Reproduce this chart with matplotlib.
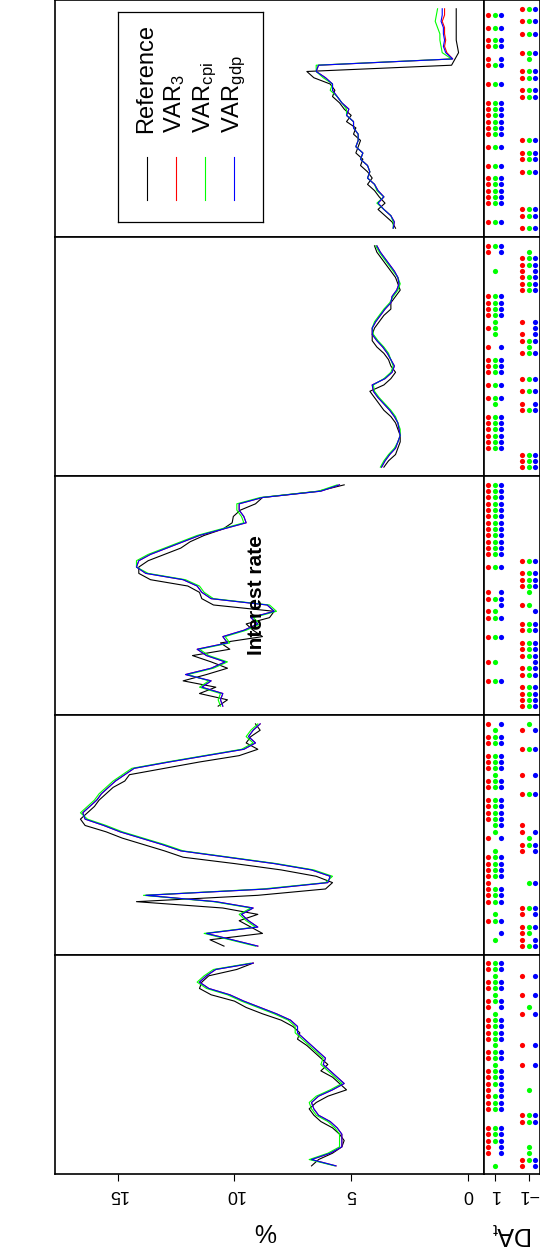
import numpy as np
import matplotlib.pyplot as plt

plt.rcParams['font.family'] = ['Liberation Sans', 'DejaVu Sans']
plt.rcParams['mathtext.fontset'] = 'custom'
plt.rcParams['mathtext.rm'] = 'Liberation Sans'
plt.rcParams['mathtext.it'] = 'Liberation Sans:italic'

# values per panel, listed from the top of each strip to its bottom
ref_1 = [0.5, 0.5, 0.5, 0.5, 0.5, 0.5, 0.45, 0.4, 0.55, 0.7, 6.9, 6.6, 5.9, 5.7, 5.8, 5.5, 5.3, 5.0,
         5.2, 4.8, 4.9, 4.6, 4.7, 4.8, 4.5, 4.6, 4.3, 4.1, 4.3, 4.0, 3.8, 3.55, 3.85, 3.55, 3.25, 3.1]
var3_1 = [1.0, 1.0, 1.1, 1.0, 1.0, 0.95, 1.0, 0.9, 0.65, 6.4, 6.5, 6.1, 5.8, 5.8, 5.6, 5.4, 5.1, 5.2,
          4.9, 4.9, 4.7, 4.7, 4.8, 4.5, 4.6, 4.3, 4.2, 4.3, 4.0, 3.85, 3.6, 3.85, 3.6, 3.3, 3.15, 3.2]
cpi_1 = [1.3, 1.35, 1.4, 1.3, 1.2, 1.2, 1.15, 1.1, 0.7, 6.5, 6.5, 6.2, 5.8, 5.9, 5.6, 5.4, 5.2, 5.2,
         4.9, 4.9, 4.7, 4.7, 4.8, 4.5, 4.6, 4.3, 4.2, 4.3, 4.0, 3.9, 3.6, 3.9, 3.6, 3.3, 3.2, 3.2]
gdp_1 = [1.1, 1.1, 1.15, 1.05, 1.05, 1.0, 1.05, 0.95, 0.65, 6.4, 6.5, 6.1, 5.8, 5.8, 5.6, 5.4, 5.1, 5.2,
         4.9, 4.9, 4.7, 4.7, 4.8, 4.5, 4.6, 4.3, 4.2, 4.3, 4.0, 3.85, 3.6, 3.85, 3.6, 3.3, 3.15, 3.2]

ref_2 = [4.0, 3.9, 3.7, 3.5, 3.3, 3.1, 3.0, 2.9, 3.1, 3.3, 3.3, 3.6, 3.8, 4.0, 4.1, 4.1, 3.9, 3.6,
         3.4, 3.3, 3.1, 3.3, 3.6, 4.2, 4.0, 3.8, 3.6, 3.3, 3.1, 3.0, 2.9, 2.9, 3.0, 3.1, 3.4, 3.6]
var3_2 = [3.9, 3.75, 3.55, 3.35, 3.15, 3.0, 2.95, 3.05, 3.25, 3.3, 3.55, 3.75, 3.95, 4.1, 4.1, 3.9, 3.65, 3.45,
          3.3, 3.15, 3.25, 3.55, 4.1, 4.05, 3.85, 3.6, 3.35, 3.15, 3.0, 2.95, 2.9, 3.0, 3.1, 3.35, 3.55, 3.7]
cpi_2 = [3.95, 3.8, 3.6, 3.4, 3.2, 3.0, 2.9, 3.0, 3.2, 3.35, 3.6, 3.8, 4.0, 4.1, 4.05, 3.85, 3.6, 3.4,
         3.3, 3.2, 3.3, 3.6, 4.05, 4.0, 3.8, 3.55, 3.3, 3.1, 3.0, 2.9, 2.9, 3.0, 3.15, 3.4, 3.6, 3.75]
gdp_2 = [3.9, 3.75, 3.55, 3.35, 3.15, 3.0, 2.95, 3.05, 3.25, 3.3, 3.55, 3.75, 3.95, 4.1, 4.1, 3.9, 3.65, 3.45,
         3.3, 3.15, 3.25, 3.55, 4.1, 4.05, 3.85, 3.6, 3.35, 3.15, 3.0, 2.95, 2.9, 3.0, 3.1, 3.35, 3.55, 3.7]

ref_3 = [5.3, 6.4, 8.8, 9.1, 9.75, 10.05, 10.1, 10.5, 11.3, 11.9, 12.3, 13.0, 13.7, 14.1, 14.1, 13.6, 12.0, 11.5,
         11.4, 10.9, 8.3, 8.5, 9.5, 9.2, 8.8, 10.6, 10.2, 11.8, 11.0, 10.3, 11.2, 12.2, 10.8, 11.5, 10.3, 10.7]
var3_3 = [5.5, 6.3, 8.8, 9.8, 9.8, 9.6, 9.5, 10.5, 11.5, 12.2, 12.9, 13.6, 14.1, 14.2, 13.8, 12.2, 11.6, 11.4,
          11.0, 8.6, 8.3, 9.3, 9.0, 9.6, 10.5, 10.3, 11.6, 11.2, 10.4, 11.0, 12.1, 11.0, 11.4, 10.5, 10.6, 10.5]
cpi_3 = [5.6, 6.4, 8.9, 9.9, 9.9, 9.7, 9.6, 10.6, 11.6, 12.3, 13.0, 13.7, 14.2, 14.2, 13.7, 12.1, 11.5, 11.3,
         10.9, 8.5, 8.2, 9.2, 8.9, 9.5, 10.4, 10.2, 11.5, 11.1, 10.3, 10.9, 12.0, 11.1, 11.5, 10.6, 10.7, 10.6]
gdp_3 = [5.5, 6.3, 8.8, 9.8, 9.8, 9.6, 9.5, 10.5, 11.5, 12.2, 12.9, 13.6, 14.1, 14.2, 13.8, 12.2, 11.6, 11.4,
         11.0, 8.6, 8.3, 9.3, 9.0, 9.6, 10.5, 10.3, 11.6, 11.2, 10.4, 11.0, 12.1, 11.0, 11.4, 10.5, 10.6, 10.5]

ref_4 = [9.1, 8.9, 9.3, 9.5, 9.0, 9.8, 11.5, 13.0, 14.5, 14.7, 15.2, 15.5, 15.8, 16.0, 16.3, 16.6, 16.4, 15.5,
         14.8, 13.9, 13.0, 12.2, 10.0, 8.0, 6.5, 5.8, 6.1, 9.0, 14.2, 10.5, 9.0, 9.8, 9.3, 8.8, 11.05, 10.45]
var3_4 = [8.9, 9.2, 9.4, 9.1, 9.6, 11.2, 12.8, 14.3, 14.7, 15.1, 15.4, 15.7, 15.9, 16.2, 16.5, 16.4, 15.6, 14.9,
          14.0, 13.1, 12.3, 10.3, 8.3, 6.7, 5.9, 6.0, 8.6, 13.8, 10.8, 9.2, 9.7, 9.4, 9.0, 11.2, 10.1, 9.0]
cpi_4 = [9.0, 9.3, 9.5, 9.2, 9.7, 11.3, 12.9, 14.4, 14.8, 15.2, 15.5, 15.8, 16.0, 16.3, 16.6, 16.3, 15.5, 14.8,
         13.9, 13.0, 12.2, 10.2, 8.2, 6.6, 5.8, 6.1, 8.8, 13.9, 10.9, 9.3, 9.8, 9.5, 9.1, 11.3, 10.2, 9.1]
gdp_4 = [8.9, 9.2, 9.4, 9.1, 9.6, 11.2, 12.8, 14.3, 14.7, 15.1, 15.4, 15.7, 15.9, 16.2, 16.5, 16.4, 15.6, 14.9,
         14.0, 13.1, 12.3, 10.3, 8.3, 6.7, 5.9, 6.0, 8.6, 13.8, 10.8, 9.2, 9.7, 9.4, 9.0, 11.2, 10.1, 9.0]

ref_5 = [9.2, 9.9, 11.1, 11.4, 11.5, 11.0, 10.0, 9.5, 8.8, 8.0, 7.5, 7.2, 7.3, 6.9, 6.6, 6.3, 6.0, 6.3,
         5.8, 5.5, 5.2, 6.0, 6.5, 6.8, 6.6, 6.3, 5.8, 5.5, 5.3, 5.4, 5.8, 6.4, 6.7]
var3_5 = [9.2, 10.8, 11.2, 11.5, 11.1, 10.2, 9.6, 8.9, 8.2, 7.6, 7.3, 7.3, 7.0, 6.7, 6.4, 6.1, 6.2, 5.9,
          5.6, 5.3, 5.8, 6.4, 6.7, 6.6, 6.4, 5.9, 5.6, 5.4, 5.4, 5.4, 5.9, 6.7, 5.65]
cpi_5 = [9.3, 10.9, 11.3, 11.6, 11.2, 10.3, 9.7, 9.0, 8.3, 7.7, 7.4, 7.4, 7.1, 6.8, 6.5, 6.2, 6.3, 6.0,
         5.7, 5.4, 5.9, 6.5, 6.8, 6.7, 6.5, 6.0, 5.7, 5.5, 5.5, 5.5, 6.0, 6.8, 5.7]
gdp_5 = [9.2, 10.8, 11.2, 11.5, 11.1, 10.2, 9.6, 8.9, 8.2, 7.6, 7.3, 7.3, 7.0, 6.7, 6.4, 6.1, 6.2, 5.9,
         5.6, 5.3, 5.8, 6.4, 6.7, 6.6, 6.4, 5.9, 5.6, 5.4, 5.4, 5.4, 5.9, 6.7, 5.65]

# directional accuracy (+1 / -1) for VAR3, VARcpi, VARgdp
da3_1 = [-1, 1, -1, 1, -1, 1, 1, -1, 1, 1, -1, -1, 1, -1, -1, 1, 1, 1, 1, 1, 1, -1, 1, -1, -1, 1, -1, 1, 1, 1, 1, 1, -1, -1, 1, -1]
dacpi_1 = [-1, 1, -1, 1, -1, 1, 1, -1, -1, 1, -1, -1, 1, -1, -1, 1, 1, 1, 1, 1, 1, -1, 1, -1, -1, 1, -1, 1, 1, 1, 1, 1, -1, -1, 1, -1]
dagdp_1 = [-1, 1, -1, 1, -1, 1, 1, -1, 1, 1, -1, -1, 1, -1, -1, 1, 1, 1, 1, 1, 1, -1, 1, -1, -1, 1, -1, 1, 1, 1, 1, 1, -1, -1, 1, -1]

da3_2 = [1, 1, -1, -1, -1, -1, -1, -1, 1, 1, 1, 1, -1, 1, -1, -1, 1, -1, 1, 1, 1, -1, 1, -1, 1, -1, -1, 1, 1, 1, 1, 1, 1, -1, -1, -1]
dacpi_2 = [1, -1, -1, -1, 1, -1, -1, -1, 1, 1, 1, 1, 1, 1, 1, -1, -1, -1, 1, 1, 1, -1, 1, -1, 1, 1, -1, 1, 1, 1, 1, 1, 1, -1, -1, -1]
dagdp_2 = [1, 1, -1, -1, -1, -1, -1, -1, 1, 1, 1, 1, -1, -1, -1, -1, 1, -1, 1, 1, 1, -1, 1, -1, 1, -1, -1, 1, 1, 1, 1, 1, 1, -1, -1, -1]

da3_3 = [1, 1, 1, 1, 1, 1, 1, 1, 1, 1, 1, 1, -1, 1, -1, -1, -1, 1, 1, -1, 1, 1, -1, -1, 1, -1, -1, -1, 1, -1, -1, 1, -1, -1, -1, -1]
dacpi_3 = [1, 1, 1, 1, 1, 1, 1, 1, 1, 1, 1, 1, -1, 1, -1, -1, -1, -1, 1, -1, 1, 1, -1, -1, 1, -1, -1, -1, 1, -1, -1, 1, -1, -1, -1, -1]
dagdp_3 = [1, 1, 1, 1, 1, 1, 1, 1, 1, 1, 1, 1, -1, 1, -1, -1, -1, 1, 1, 1, -1, 1, -1, -1, 1, -1, -1, -1, -1, -1, -1, 1, -1, -1, -1, -1]

da3_4 = [1, -1, 1, 1, -1, 1, 1, 1, -1, 1, 1, -1, 1, 1, 1, 1, -1, -1, 1, -1, -1, 1, 1, 1, 1, 1, 1, 1, 1, -1, -1, 1, -1, -1, -1, -1]
dacpi_4 = [-1, 1, 1, 1, -1, 1, 1, 1, 1, 1, 1, -1, 1, 1, 1, 1, 1, 1, -1, -1, 1, 1, 1, 1, 1, -1, 1, 1, 1, -1, 1, 1, -1, -1, 1, -1]
dagdp_4 = [1, -1, 1, 1, -1, 1, 1, 1, -1, 1, 1, -1, 1, 1, 1, 1, 1, -1, 1, -1, -1, 1, 1, 1, 1, -1, 1, 1, 1, -1, -1, 1, -1, 1, -1, -1]

da3_5 = [1, 1, -1, 1, 1, -1, 1, 1, -1, 1, 1, 1, 1, -1, 1, 1, -1, 1, 1, 1, 1, 1, 1, 1, -1, -1, 1, 1, 1, 1, 1, -1, -1]
dacpi_5 = [1, 1, 1, 1, 1, 1, 1, -1, 1, 1, 1, 1, 1, 1, 1, 1, 1, 1, 1, 1, -1, 1, 1, 1, -1, -1, 1, 1, 1, -1, -1, -1, 1]
dagdp_5 = [1, 1, -1, 1, 1, -1, 1, 1, -1, 1, 1, 1, 1, -1, 1, 1, -1, 1, 1, 1, 1, 1, 1, 1, -1, -1, 1, 1, 1, 1, 1, -1, -1]

panels = [
    (ref_1, var3_1, cpi_1, gdp_1, da3_1, dacpi_1, dagdp_1),
    (ref_2, var3_2, cpi_2, gdp_2, da3_2, dacpi_2, dagdp_2),
    (ref_3, var3_3, cpi_3, gdp_3, da3_3, dacpi_3, dagdp_3),
    (ref_4, var3_4, cpi_4, gdp_4, da3_4, dacpi_4, dagdp_4),
    (ref_5, var3_5, cpi_5, gdp_5, da3_5, dacpi_5, dagdp_5),
]
panel_rows = [(0, 237), (237, 476), (476, 715), (715, 955), (955, 1174)]  # pixel rows

W, H = 540, 1251
fig = plt.figure(figsize=(W / 100, H / 100), dpi=100)


def box(left, top, right, bottom):
    return [left / W, 1 - bottom / H, (right - left) / W, (bottom - top) / H]


cols = ['#ff0000', '#00ff00', '#0000ff']
offsets = [0.41, 0.0, -0.38]

for i, ((ref, v3, vc, vg, d3, dc, dg), (top, bot)) in enumerate(zip(panels, panel_rows)):
    n = len(ref)
    t = np.arange(n)
    pad = 0.04 * (n - 1)

    ax = fig.add_axes(box(55, top, 484, bot))
    ax.plot(ref, t, color='black', lw=0.8)
    for series, c in zip([v3, vc, vg], cols):
        ax.plot(series, t, color=c, lw=0.8)
    ax.set_xlim(17.69, -0.69)
    ax.set_ylim(n - 1 + pad, -pad)
    ax.set_yticks([])

    dax = fig.add_axes(box(484, top, 540, bot))
    for d, c, off in zip([d3, dc, dg], cols, offsets):
        dax.scatter(np.array(d) + off, t, s=14, color=c, linewidths=0)
    dax.set_xlim(1.65, -1.65)
    dax.set_ylim(n - 1 + pad, -pad)
    dax.set_yticks([])

    for a in (ax, dax):
        for sp in a.spines.values():
            sp.set_linewidth(1.2)

    if i == len(panels) - 1:
        ax.set_xticks([0, 5, 10, 15])
        ax.set_xticklabels(['0', '5', '10', '15'], rotation=180, fontsize=13)
        dax.set_xticks([1, -1])
        dax.set_xticklabels(['1', '\u22121'], rotation=180, fontsize=13)
        for a in (ax, dax):
            a.tick_params(axis='x', direction='out', length=5, width=0.8, pad=4)
    else:
        ax.set_xticks([])
        dax.set_xticks([])

fig.text(265 / W, 1 - 1230 / H, '%', rotation=180, fontsize=18, ha='center', va='center')
fig.text(512 / W, 1 - 1233 / H, r'DA$_\mathrm{t}$', rotation=180, fontsize=18, ha='center', va='center')
fig.text(257 / W, 1 - 595 / H, 'Interest rate', rotation=90, fontsize=15, fontweight='bold',
         ha='center', va='center')

# legend box (drawn by hand because the text is turned)
lax = fig.add_axes(box(118, 12, 263, 222))
lax.set_xlim(118, 263)
lax.set_ylim(222, 12)
lax.set_xticks([])
lax.set_yticks([])
for sp in lax.spines.values():
    sp.set_linewidth(0.9)
labels = ['Reference', r'VAR$_3$', r'VAR$_{\mathrm{cpi}}$', r'VAR$_{\mathrm{gdp}}$']
for lx, lab, c in zip([147, 176, 205, 234], labels, ['black'] + cols):
    lax.plot([lx, lx], [157, 200], color=c, lw=0.8)
    lax.text(lx + 5.5, 133, lab, rotation=90, rotation_mode='anchor', ha='left', va='baseline', fontsize=17)

fig.savefig('out.png', dpi=100)
